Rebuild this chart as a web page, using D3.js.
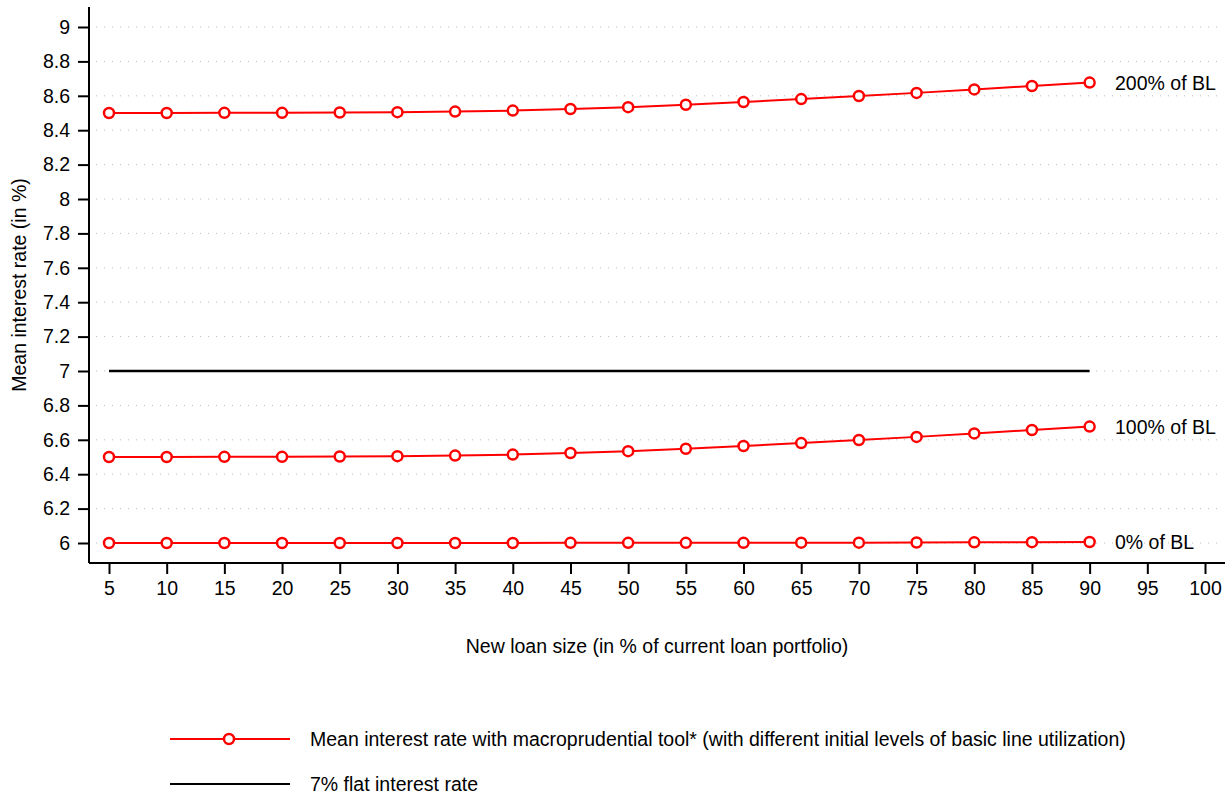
<!DOCTYPE html>
<html><head><meta charset="utf-8">
<script src="https://cdn.jsdelivr.net/npm/d3@7"></script>
<style>body{margin:0;background:#fff}svg{font-family:"Liberation Sans",Arial,sans-serif}</style>
</head><body>
<svg id="c" width="1228" height="796"></svg>
<script>
const loanSizes = [5,10,15,20,25,30,35,40,45,50,55,60,65,70,75,80,85,90];
const xTicks = [5,10,15,20,25,30,35,40,45,50,55,60,65,70,75,80,85,90,95,100];
const yTicks = [6,6.2,6.4,6.6,6.8,7,7.2,7.4,7.6,7.8,8,8.2,8.4,8.6,8.8,9];
const bl200 = [8.500,8.500,8.501,8.501,8.503,8.505,8.508,8.514,8.523,8.534,8.548,8.564,8.581,8.599,8.617,8.637,8.657,8.677];
const bl100 = [6.500,6.500,6.501,6.501,6.503,6.505,6.508,6.514,6.523,6.534,6.548,6.564,6.581,6.599,6.617,6.637,6.657,6.677];
const bl0   = [6.000,6.000,6.000,6.000,6.000,6.000,6.000,6.000,6.001,6.001,6.001,6.001,6.002,6.002,6.003,6.004,6.005,6.006];
const seriesLabels = ["200% of BL","100% of BL","0% of BL"];
const flatRate = 7;
const legendLabels = ["Mean interest rate with macroprudential tool* (with different initial levels of basic line utilization)","7% flat interest rate"];

const FS = 19.5;
const svg = d3.select("#c");
const x = d3.scaleLinear().domain([5,100]).range([109,1205]);
const y = d3.scaleLinear().domain([6,9]).range([543,27]);
const axX = 89, axY = 563;

// gridlines
svg.append("g").selectAll("line").data(yTicks).join("line")
  .attr("x1",96).attr("x2",1222).attr("y1",d=>y(d)).attr("y2",d=>y(d))
  .attr("stroke","#bbb").attr("stroke-width",1).attr("stroke-dasharray","1,7");

// y axis
const ya = svg.append("g").attr("transform",`translate(${axX},0)`)
  .call(d3.axisLeft(y).tickValues(yTicks).tickFormat(d=>d3.format("~g")(d)).tickSize(11).tickSizeOuter(0));
ya.select(".domain").attr("d",`M0,7V${axY}`).attr("stroke","#000").attr("stroke-width",2);
ya.selectAll(".tick line").attr("stroke-width",2);
ya.selectAll(".tick text").attr("font-size",FS).attr("font-family","Liberation Sans, Arial, sans-serif").attr("x",-19).attr("fill","#000");

// x axis
const xa = svg.append("g").attr("transform",`translate(0,${axY})`)
  .call(d3.axisBottom(x).tickValues(xTicks).tickSize(11).tickSizeOuter(0));
xa.select(".domain").attr("d",`M${axX},0H1225`).attr("stroke","#000").attr("stroke-width",2);
xa.selectAll(".tick line").attr("stroke-width",2);
xa.selectAll(".tick text").attr("font-size",FS).attr("font-family","Liberation Sans, Arial, sans-serif").attr("y",18).attr("fill","#000");

// axis titles
svg.append("text").attr("transform","translate(26,285) rotate(-90)").attr("text-anchor","middle")
  .attr("font-size",FS).text("Mean interest rate (in %)");
svg.append("text").attr("x",657).attr("y",653).attr("text-anchor","middle")
  .attr("font-size",FS).text("New loan size (in % of current loan portfolio)");

// flat line
svg.append("line").attr("x1",x(loanSizes[0])).attr("x2",x(loanSizes[loanSizes.length-1]))
  .attr("y1",y(flatRate)).attr("y2",y(flatRate)).attr("stroke","#000").attr("stroke-width",2.5);

// red series
const line = d3.line().x((d,i)=>x(loanSizes[i])).y(d=>y(d));
[bl200,bl100,bl0].forEach((s,k)=>{
  svg.append("path").attr("d",line(s)).attr("fill","none").attr("stroke","#ff0000").attr("stroke-width",2);
  svg.append("g").selectAll("circle").data(s).join("circle")
    .attr("cx",(d,i)=>x(loanSizes[i])).attr("cy",d=>y(d)).attr("r",5)
    .attr("fill","#fff").attr("stroke","#ff0000").attr("stroke-width",2.5);
  svg.append("text").attr("x",1115).attr("y",y(s[s.length-1])+7).attr("font-size",FS)
    .text(seriesLabels[k]);
});

// legend
const lg = svg.append("g");
lg.append("line").attr("x1",170).attr("x2",290).attr("y1",739).attr("y2",739).attr("stroke","#ff0000").attr("stroke-width",2);
lg.append("circle").attr("cx",229).attr("cy",739).attr("r",5).attr("fill","#fff").attr("stroke","#ff0000").attr("stroke-width",2.5);
lg.append("text").attr("x",310).attr("y",746).attr("font-size",FS).text(legendLabels[0]);
lg.append("line").attr("x1",170).attr("x2",290).attr("y1",784).attr("y2",784).attr("stroke","#000").attr("stroke-width",2);
lg.append("text").attr("x",310).attr("y",791).attr("font-size",FS).text(legendLabels[1]);
</script>
</body></html>
